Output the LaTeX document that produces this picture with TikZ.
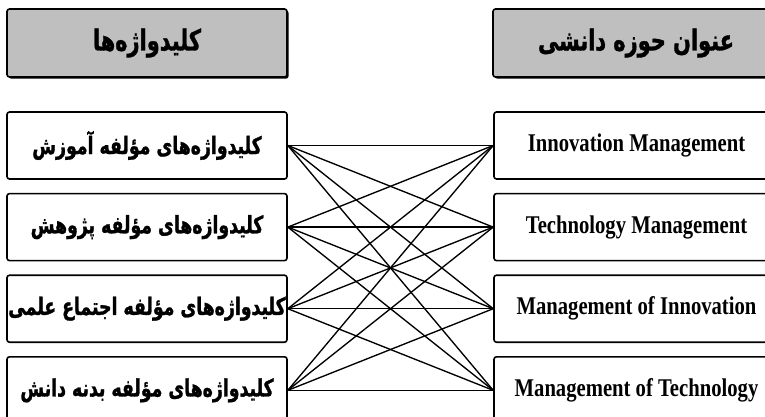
\documentclass[tikz,border=0pt]{standalone}
\usepackage{fontspec}
\setmainfont{Liberation Serif}
\newfontfamily\farsi[Script=Arabic,FakeStretch=0.72,BoldFeatures={FakeBold=1.2}]{DejaVu Sans}
\newfontfamily\latinnarrow[FakeStretch=0.81]{Liberation Serif}
\TeXXeTstate=1
\usetikzlibrary{positioning}
\usetikzlibrary{shadows}

\begin{document}
\begin{tikzpicture}[x=1pt,y=-1pt,
  keybox/.style={draw=black,line width=1.6pt,rounded corners=2.5pt,fill=white,minimum width=280pt,minimum height=67pt,inner sep=0pt},
  areabox/.style={keybox,minimum width=285pt},
  headbox/.style={keybox,fill=gray!50,minimum height=68pt,drop shadow={shadow xshift=1.6pt,shadow yshift=-1.6pt,fill=black,opacity=1}},
  fatext/.style={font=\farsi\bfseries\fontsize{24}{28}\selectfont},
  fahead/.style={font=\farsi\bfseries\fontsize{29}{34}\selectfont},
  entext/.style={font=\latinnarrow\bfseries\fontsize{25.5}{30}\selectfont},
  link/.style={line width=1.35pt}]
\useasboundingbox (0,0) rectangle (765,416);

% headers
\node[headbox,fahead] (keyhead) at (147,43) {\beginR کلیدواژه‌ها\endR};
\node[headbox,fahead,minimum width=286pt] (areahead) at (636,43) {\beginR عنوان حوزه دانشی\endR};

% keyword boxes
\node[keybox,fatext] (k1) at (147,145.5) {\beginR کلیدواژه‌های مؤلفه آموزش\endR};
\node[keybox,fatext,below=13pt of k1] (k2) {\beginR کلیدواژه‌های مؤلفه پژوهش\endR};
\node[keybox,fatext,below=13pt of k2] (k3) {\beginR کلیدواژه‌های مؤلفه اجتماع علمی\endR};
\node[keybox,fatext,below=13pt of k3] (k4) {\beginR کلیدواژه‌های مؤلفه بدنه دانش\endR};

% area boxes
\node[areabox,entext] (a1) at (636.5,145.5) {Innovation Management};
\node[areabox,entext,below=13pt of a1] (a2) {Technology Management};
\node[areabox,entext,below=13pt of a2] (a3) {Management of Innovation};
\node[areabox,entext,below=13pt of a3] (a4) {Management of Technology};

% every keyword group to every area
\foreach \i in {1,...,4}
  \foreach \j in {1,...,4}
    \draw[link] (k\i.east) -- (a\j.west);

\end{tikzpicture}
\end{document}
